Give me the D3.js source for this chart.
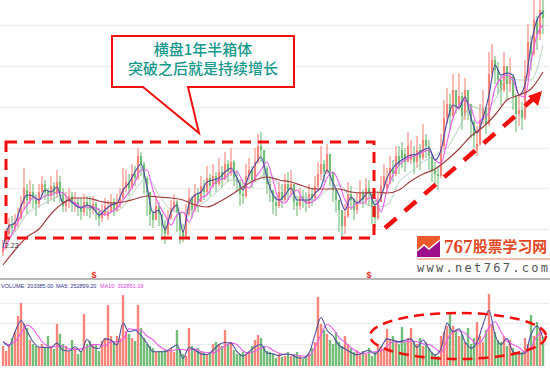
<!DOCTYPE html>
<html>
<head>
<meta charset="utf-8">
<script src="https://cdn.jsdelivr.net/npm/d3@7"></script>
<style>
    html, body { margin: 0; padding: 0; background: #fff; overflow: hidden; }
    svg { display: block; }
    text { font-family: "Liberation Sans", sans-serif; }
    .cjk { font-family: "Noto Sans CJK SC", sans-serif; }
</style>
</head>
<body>
<script>
// Daily bars. One entry per trading day.
const opens = [
    1.8,2.4,3.6,4.6,4.2,4.8,5.2,6.6,8.0,7.0,7.8,7.2,6.6,7.8,8.6,7.8,7.4,8.4,7.6,8.8,7.8,6.4,6.8,7.4,6.6,6.8,6.2,5.8,6.8,6.4,
    6.0,6.6,5.8,5.2,5.6,5.4,5.8,6.8,6.0,6.6,7.2,8.2,8.8,8.2,9.6,9.2,11.4,10.6,9.2,7.8,5.6,5.0,6.4,5.6,4.4,3.6,5.2,6.2,6.8,5.8,
    4.0,3.4,5.6,7.2,6.0,7.6,6.8,8.4,7.8,9.2,8.4,9.4,8.6,9.8,9.0,10.6,9.8,10.8,9.2,8.8,7.6,7.4,9.4,10.0,9.0,10.8,12.4,12.0,10.2,8.6,
    8.0,6.8,6.4,7.8,7.0,8.6,8.0,8.6,6.8,6.4,7.4,7.0,6.6,7.6,7.2,8.4,9.6,10.6,9.8,11.6,9.8,8.0,7.0,6.0,4.4,5.4,7.6,7.0,6.0,6.8,
    7.8,7.0,8.2,7.6,6.4,5.2,6.8,8.4,8.2,8.6,10.2,9.6,11.4,12.0,11.6,10.8,11.0,11.6,10.8,12.0,11.2,13.0,12.4,11.4,10.0,9.6,9.4,12.4,15.2,16.6,
    15.4,18.0,16.4,17.4,15.4,18.0,16.6,14.8,12.0,12.6,15.0,16.2,14.6,19.6,21.0,20.0,19.0,18.0,20.4,18.6,19.4,17.4,15.6,16.0,15.2,19.4,22.8,21.6,25.0,23.6,26.0
]
const closes = [
    2.2,3.6,4.6,4.2,4.8,5.2,6.6,8.2,7.0,7.8,7.2,6.6,7.8,8.6,7.8,7.4,8.4,7.6,8.8,7.8,6.4,6.8,7.4,6.6,6.8,6.2,5.8,6.8,6.4,6.0,
    6.6,5.8,5.2,5.6,6.4,5.8,6.8,6.0,6.6,7.2,8.2,8.8,8.2,9.6,9.2,11.4,10.6,9.2,7.8,5.6,5.0,6.4,5.6,4.4,3.6,5.2,6.2,6.8,5.8,4.0,
    3.4,5.6,7.2,6.0,7.6,6.8,8.4,7.8,9.2,8.4,9.4,8.6,9.8,9.0,10.6,9.8,10.8,9.2,8.8,7.6,7.4,9.4,10.0,9.0,10.8,12.4,12.0,10.2,8.6,8.0,
    6.8,6.4,7.8,7.0,8.6,8.0,8.6,6.8,6.4,7.4,7.0,6.6,7.6,7.2,8.4,9.6,10.6,9.8,11.6,9.8,8.0,7.0,6.0,4.4,5.4,7.6,7.0,6.0,6.8,7.8,
    7.0,8.2,7.6,6.4,5.2,6.8,8.4,9.4,8.6,10.2,9.6,11.4,10.4,11.2,10.8,12.4,11.6,10.8,12.0,11.2,13.0,12.4,11.4,10.0,9.6,9.4,12.4,15.2,16.6,15.4,
    18.0,16.4,17.4,15.4,18.0,16.6,14.8,13.4,12.6,15.0,16.2,14.6,19.6,21.0,20.0,19.0,18.0,20.4,18.6,19.4,17.4,15.6,16.0,15.2,19.4,22.8,21.6,25.0,23.6,26.0,25.2
]
const highs = [
    3.0,4.2,5.2,5.4,5.6,6.2,7.4,10.2,8.6,9.0,8.6,7.6,8.6,9.4,9.0,8.2,9.4,8.8,10.0,9.4,8.2,7.8,8.2,7.8,7.8,7.2,7.2,7.6,7.4,7.4,
    7.4,6.8,6.2,6.6,7.2,7.0,7.6,7.2,7.6,8.2,10.2,10.0,9.6,10.6,10.4,12.2,11.8,10.8,9.4,7.8,6.0,7.2,6.8,5.6,5.0,6.0,7.0,7.6,7.0,5.8,
    4.6,6.6,8.2,7.4,8.6,8.2,9.4,9.0,10.4,9.6,10.6,9.8,11.2,10.4,11.8,11.0,12.2,11.0,10.0,9.0,8.8,10.6,11.2,10.4,12.2,13.6,13.8,12.0,10.4,9.4,
    8.0,7.4,8.8,8.6,9.6,9.8,10.0,8.6,7.4,8.2,8.0,7.8,8.6,8.2,9.4,10.8,12.4,11.0,12.6,11.4,9.6,8.0,7.0,5.6,6.6,8.8,8.4,7.2,7.8,9.0,
    8.0,9.2,9.0,7.8,7.0,7.8,9.4,10.6,10.2,11.4,11.0,12.4,12.4,12.8,12.2,13.8,13.0,12.4,13.4,12.6,14.6,13.6,13.0,11.6,10.8,10.4,13.6,17.0,18.2,17.6,
    19.6,18.0,19.7,17.8,19.2,18.0,16.2,15.0,14.4,16.6,18.0,16.4,21.8,22.6,21.4,20.8,19.6,21.8,20.4,21.2,19.4,17.6,17.4,16.8,21.0,24.6,23.4,27.0,25.4,27.6,27.0
]
const lows = [
    1.4,2.0,3.4,3.6,3.8,4.2,5.0,6.0,5.6,6.6,6.2,5.4,6.2,7.4,7.0,6.6,7.0,6.8,7.2,6.8,5.8,5.8,6.2,5.8,5.8,5.4,5.0,5.4,5.4,5.2,
    5.6,5.0,4.4,4.8,5.4,5.0,5.8,5.4,5.8,6.2,7.0,7.8,7.4,8.0,8.4,9.0,9.4,7.6,5.4,4.4,4.2,5.0,4.4,3.4,2.6,3.4,5.0,5.8,3.8,2.6,
    2.8,3.2,5.4,5.2,5.8,5.8,6.8,7.0,7.6,7.4,8.2,7.8,8.4,8.2,9.0,8.8,9.4,8.4,7.8,6.4,6.6,7.2,9.0,8.2,8.8,10.6,10.8,9.0,7.6,6.8,
    5.6,5.4,6.2,6.2,6.8,7.0,7.4,6.0,5.4,6.0,6.2,5.8,6.2,6.4,7.0,8.0,9.0,8.8,9.6,8.4,6.8,5.8,3.8,3.0,3.6,5.2,6.0,5.0,5.6,6.6,
    6.2,6.6,6.4,4.6,4.2,5.0,6.8,8.2,7.8,8.6,8.8,9.4,9.6,10.2,9.8,10.8,10.6,9.6,10.2,10.0,11.0,11.2,10.0,8.8,8.4,8.0,9.2,12.0,14.6,14.0,
    15.2,15.6,16.0,14.0,15.0,15.0,13.2,12.2,11.4,12.4,14.6,13.6,14.4,19.2,18.6,17.6,16.4,17.8,17.0,17.8,16.0,13.8,14.4,14.0,15.0,19.0,20.0,21.4,22.0,23.0,23.6
]
// Volume in thousands
const volumes = [
    140,105,140,196,238,350,441,294,266,182,154,140,133,154,126,210,140,119,294,224,154,140,105,182,126,84,105,364,154,175,
    154,154,105,175,196,427,210,175,210,196,497,245,224,196,175,427,266,196,154,140,126,98,105,105,112,105,126,98,252,112,
    84,70,266,140,112,126,105,98,84,84,154,168,154,140,252,154,168,112,84,84,98,84,98,140,182,217,196,140,105,98,
    84,56,84,63,70,98,70,84,98,70,49,63,84,126,168,483,294,252,224,182,154,238,168,140,210,154,126,98,112,84,
    105,84,126,70,98,154,140,112,259,182,210,168,154,273,168,196,266,168,154,196,140,168,126,98,84,70,210,238,280,371,
    280,252,210,224,168,266,154,196,308,210,168,252,504,294,238,182,168,210,140,182,126,98,84,98,196,154,357,210,308,266,203
]

// Price moving averages: ma5 and ma10 are read every 2nd bar, ma20 and ma60 every 4th
const ma5 = [
    2.2,4.4,4.7,6.4,7.5,7.4,7.0,8.0,7.8,8.3,6.7,7.0,6.5,6.2,6.5,6.2,5.5,6.0,6.5,6.7,8.0,8.7,9.8,10.6,8.3,5.7,
    6.0,4.0,5.8,6.5,3.8,6.6,7.5,7.8,8.8,9.0,9.2,9.8,10.2,9.2,8.0,9.5,10.5,11.3,9.2,7.5,7.0,7.5,8.2,7.0,7.0,7.0,
    7.7,8.3,10.0,8.7,7.5,6.0,7.3,6.7,7.2,7.8,6.5,7.3,9.2,10.2,10.8,11.2,11.5,11.6,12.0,12.2,11.0,12.0,14.8,
    16.5,16.2,17.3,15.2,13.7,15.2,17.5,20.5,19.5,19.7,19.5,17.5,18.5,22.5,25.0,25.8
]
const ma10 = [
    2.0,3.0,4.2,5.5,6.5,7.2,7.0,7.4,7.5,7.8,7.7,7.0,6.7,6.3,6.3,6.3,6.0,5.5,5.8,6.2,7.0,7.8,8.8,10.0,10.0,8.0,
    6.5,5.5,4.5,5.5,5.8,4.8,6.2,7.2,7.5,8.5,9.0,9.2,9.8,9.8,8.8,8.2,9.2,10.0,10.8,9.0,7.0,6.7,7.5,8.0,7.0,6.7,
    7.0,7.7,9.2,9.8,8.7,7.0,6.2,6.7,6.7,7.2,7.2,5.8,8.0,9.5,10.5,11.0,11.3,11.5,11.8,12.0,11.0,10.7,12.8,15.2,
    16.5,17.0,16.2,14.7,15.2,15.7,18.2,19.2,19.5,19.0,17.5,17.3,20.8,23.5,24.5
]
const ma20 = [
    2.5,3.8,5.6,6.4,7.0,7.5,6.5,6.2,6.0,5.8,6.3,8.0,9.2,7.5,6.0,5.7,6.2,7.0,8.0,9.0,9.0,8.8,9.8,8.5,7.3,7.3,7.0,
    8.0,8.5,7.3,6.7,6.3,6.5,8.8,9.8,10.8,11.5,12.2,14.2,16.4,16.0,17.0,19.1,19.0,19.0,22.5
]
const ma60 = [
    0.5,2.0,3.3,4.1,5.6,6.7,7.2,7.2,6.9,6.7,6.8,7.1,7.4,7.3,7.2,7.0,6.5,6.3,6.8,7.5,8.3,9.0,9.3,9.0,8.8,8.4,8.1,
    8.1,8.1,7.8,7.7,7.8,7.7,8.0,8.9,9.6,10.1,11.0,12.1,13.4,14.3,15.5,17.0,17.5,18.1,19.8
]

// Volume moving averages, read every 2nd bar
const volMa5 = [
    170,140,240,318,245,170,133,130,128,160,110,105,135,100,185,130,123,190,180,147,300,240,250,215,159,100,
    100,100,125,147,54,130,110,85,80,110,150,165,160,100,70,100,135,150,90,85,72,84,80,60,56,90,220,340,250,210,
    145,120,95,78,95,110,85,130,190,180,170,180,190,130,182,120,75,120,300,240,260,170,125,165,290,390,220,150,
    193,100,85,90,220,280,195
]
const volMa10 = [
    170,150,170,230,285,260,200,150,135,135,140,120,115,120,130,150,150,140,170,170,185,260,255,250,210,185,
    140,115,105,115,115,110,120,100,95,90,115,140,160,150,105,90,105,125,135,110,90,80,80,75,70,70,130,220,290,260,
    200,165,130,100,85,95,100,105,140,170,165,170,175,170,155,150,125,95,180,240,245,230,190,155,190,270,310,240,
    175,150,130,95,130,210,235
]

const priceGrid = [4.1, 8.2, 12.2, 16.3, 20.4, 24.5]
const volumeGrid = [154, 301, 441]
const dateMarks = [30.3, 122]

const width = 550
const height = 369

const svg = d3.select('body').append('svg')
    .attr('width', width)
    .attr('height', height)

// The source is a soft, rescaled screenshot, so the marks get a slight blur
svg.append('defs').append('filter')
    .attr('id', 'soft')
    .attr('x', 0).attr('y', 0).attr('width', 1).attr('height', 1)
  .append('feGaussianBlur')
    .attr('stdDeviation', 0.35)

const xScale = d3.scaleLinear().domain([0, 180]).range([3, 543])
const yScale = d3.scaleLinear().domain([0, 27]).range([270, 0])
const volScale = d3.scaleLinear().domain([0, 497]).range([366, 295])

const upColor = '#f7857a'
const downColor = '#72bd78'
const barColor = i => closes[i] >= opens[i] ? upColor : downColor

// Faint grid, both panels
function drawGrid(scale, values) {
    const grid = svg.append('g')
        .call(d3.axisRight(scale).tickValues(values).tickSize(width).tickFormat(''))
    grid.select('.domain').remove()
    grid.selectAll('line')
        .attr('stroke', '#dddddd')
        .attr('stroke-dasharray', '1,1')
}
drawGrid(yScale, priceGrid)
drawGrid(volScale, volumeGrid)

// Panel separator and the date marks sitting on it
svg.append('line')
    .attr('x1', 0).attr('x2', width)
    .attr('y1', yScale(-0.9)).attr('y2', yScale(-0.9))
    .attr('stroke', '#a0a0a0')
    .attr('stroke-width', 1.5)
svg.selectAll('.dateMark').data(dateMarks).join('text')
    .attr('class', 'dateMark')
    .attr('x', d => xScale(d))
    .attr('y', yScale(-0.8))
    .attr('text-anchor', 'middle')
    .attr('font-size', 9)
    .attr('font-weight', 700)
    .attr('fill', '#e82a20')
    .text('$')

const marks = svg.append('g').attr('filter', 'url(#soft)')

// Candles
const bars = d3.range(closes.length)
marks.append('g').selectAll('line').data(bars).join('line')
    .attr('x1', xScale).attr('x2', xScale)
    .attr('y1', i => yScale(highs[i]))
    .attr('y2', i => yScale(lows[i]))
    .attr('stroke', barColor)
    .attr('stroke-width', 1.1)
marks.append('g').selectAll('rect').data(bars).join('rect')
    .attr('x', i => xScale(i) - 1.1)
    .attr('width', 2.2)
    .attr('y', i => yScale(Math.max(opens[i], closes[i])))
    .attr('height', i => Math.max(1, Math.abs(yScale(opens[i]) - yScale(closes[i]))))
    .attr('fill', barColor)

// Volume bars
marks.append('g').selectAll('rect').data(bars).join('rect')
    .attr('x', i => xScale(i) - 1.2)
    .attr('width', 2.4)
    .attr('y', i => volScale(volumes[i]))
    .attr('height', i => volScale(0) - volScale(volumes[i]))
    .attr('fill', barColor)

// A moving average is drawn through the bars it was read at
function drawAverage(values, step, scale, color, lineWidth) {
    const line = d3.line()
        .x((d, i) => xScale(i * step))
        .y(d => scale(d))
        .curve(d3.curveMonotoneX)
    marks.append('path')
        .datum(values)
        .attr('fill', 'none')
        .attr('stroke', color)
        .attr('stroke-width', lineWidth)
        .attr('d', line)
}
drawAverage(ma20, 4, yScale, '#aac8b4', 0.9)
drawAverage(ma10, 2, yScale, '#ee5cee', 1.1)
drawAverage(ma5, 2, yScale, '#4a4aa6', 1.1)
drawAverage(ma60, 4, yScale, '#a23f3f', 1.2)
drawAverage(volMa10, 2, volScale, '#ee5cee', 1.1)
drawAverage(volMa5, 2, volScale, '#50509f', 1.1)

// Volume legend
const legend = [
    {text: 'VOLUME: 203385.00', x: 1, color: '#35358a'},
    {text: 'MA5: 252899.20', x: 56, color: '#35358a'},
    {text: 'MA10: 302851.19', x: 100, color: '#e040e0'},
]
svg.selectAll('.legend').data(legend).join('text')
    .attr('class', 'legend')
    .attr('x', d => d.x)
    .attr('y', 288)
    .attr('font-size', 5.5)
    .attr('fill', d => d.color)
    .text(d => d.text)

svg.append('text')
    .attr('x', 5).attr('y', 248)
    .attr('font-size', 7)
    .attr('fill', '#333')
    .text('2.22')

// Annotations drawn over the chart
const annotRed = '#f40f0f'
svg.append('rect')
    .attr('x', 6).attr('y', 142)
    .attr('width', 368).attr('height', 96)
    .attr('fill', 'none')
    .attr('stroke', annotRed)
    .attr('stroke-width', 3)
    .attr('stroke-dasharray', '11,7')

svg.append('line')
    .attr('x1', 385).attr('y1', 228)
    .attr('x2', 520).attr('y2', 112)
    .attr('stroke', annotRed)
    .attr('stroke-width', 4.5)
    .attr('stroke-dasharray', '15,11')
svg.append('line')
    .attr('x1', 525).attr('y1', 106)
    .attr('x2', 534).attr('y2', 98)
    .attr('stroke', annotRed)
    .attr('stroke-width', 4.5)
svg.append('path')
    .attr('d', 'M542,91L528,96L538,106Z')
    .attr('fill', annotRed)

svg.append('ellipse')
    .attr('cx', 458).attr('cy', 336)
    .attr('rx', 88).attr('ry', 23)
    .attr('fill', 'none')
    .attr('stroke', annotRed)
    .attr('stroke-width', 2.5)
    .attr('stroke-dasharray', '10,6')

// Callout
svg.append('path')
    .attr('d', 'M112,36H294V87H188L199,133L143,87H112Z')
    .attr('fill', '#fff')
    .attr('stroke', annotRed)
    .attr('stroke-width', 2)
const calloutLines = ['横盘1年半箱体', '突破之后就是持续增长']
svg.selectAll('.callout').data(calloutLines).join('text')
    .attr('class', 'callout cjk')
    .attr('x', 203)
    .attr('y', (d, i) => 55 + i * 19)
    .attr('text-anchor', 'middle')
    .attr('font-size', 15)
    .attr('font-weight', 500)
    .attr('fill', '#17998c')
    .text(d => d)

// Site logo
svg.append('rect')
    .attr('x', 417).attr('y', 236)
    .attr('width', 23).attr('height', 21)
    .attr('fill', '#ee5a2c')
svg.append('path')
    .attr('d', 'M417,257V251L424,245L429,249L440,240V257Z')
    .attr('fill', '#9b0f8c')
svg.append('path')
    .attr('d', 'M417,251L424,245L429,249L440,240')
    .attr('fill', 'none')
    .attr('stroke', '#fff')
    .attr('stroke-width', 1.5)
svg.append('text')
    .attr('x', 444).attr('y', 253)
    .attr('font-size', 19)
    .attr('font-weight', 700)
    .attr('fill', '#e2491f')
    .style('font-family', '"Liberation Serif", serif')
    .text('767')
svg.append('text')
    .attr('class', 'cjk')
    .attr('x', 473).attr('y', 252)
    .attr('font-size', 14.8)
    .attr('font-weight', 700)
    .attr('fill', '#e2491f')
    .text('股票学习网')
svg.append('line')
    .attr('x1', 417).attr('x2', 550)
    .attr('y1', 259).attr('y2', 259)
    .attr('stroke', '#f4a79a')
    .attr('stroke-width', 1.5)
svg.append('text')
    .attr('x', 417).attr('y', 272)
    .attr('font-size', 12)
    .attr('fill', '#555')
    .attr('textLength', 131)
    .style('font-family', '"DejaVu Sans Mono", monospace')
    .text('www.net767.com')
</script>
</body>
</html>
